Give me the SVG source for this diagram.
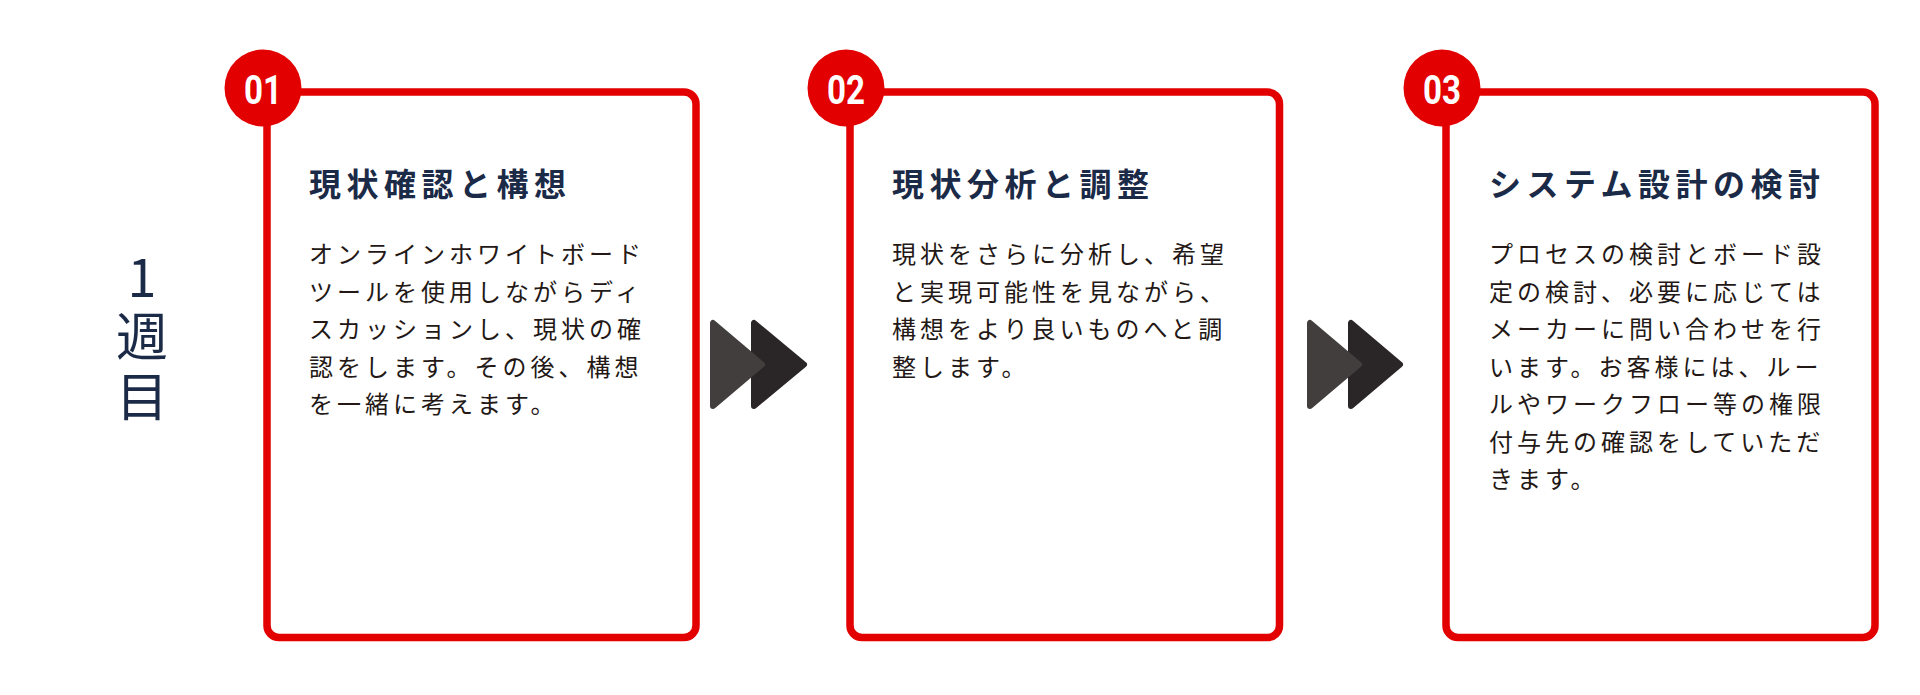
<svg xmlns="http://www.w3.org/2000/svg" width="1920" height="695" viewBox="0 0 1920 695">
<style>
.box{fill:#fff;stroke:#e20000;stroke-width:7.5}
.badge{fill:#e20000}
.num{font-family:Roboto,"Liberation Sans",sans-serif;font-weight:700;font-size:40px;fill:#fff;text-anchor:middle}
.title{font-family:"Noto Sans CJK JP","Noto Sans",sans-serif;font-weight:700;font-size:32px;letter-spacing:5.5px;fill:#1b2a47}
.body{font-family:"Noto Sans CJK JP","Noto Sans",sans-serif;font-weight:400;font-size:24px;letter-spacing:4px;fill:#231815}
.week{font-family:"Noto Sans CJK JP","Noto Sans",sans-serif;font-weight:400;font-size:52px;fill:#1b2a47;writing-mode:vertical-rl;text-orientation:upright;letter-spacing:7.5px}
.a1{fill:#433e3e;stroke:#433e3e;stroke-width:6;stroke-linejoin:round}
.a2{fill:#2a2526;stroke:#2a2526;stroke-width:6;stroke-linejoin:round}
</style>
<rect width="1920" height="695" fill="#fff"/>
<g id="week-label">
<text class="week" x="142" y="251">1週目</text>
</g>
<g id="connectors">
<polygon class="a2" points="754,323 754,406 804,364.5"/>
<polygon class="a1" points="713,323 713,406 762,364.5"/>
<polygon class="a2" points="1351,323 1351,406 1400,364.5"/>
<polygon class="a1" points="1310,323 1310,406 1359,364.5"/>
</g>
<g id="step1">
<rect class="box" x="267" y="92" width="429" height="545.5" rx="12"/>
<circle class="badge" cx="263" cy="88" r="38.5"/>
<text class="num" x="263" y="104" textLength="38" lengthAdjust="spacingAndGlyphs">01</text>
<text class="title" x="309" y="195.5">現状確認と構想</text>
<text class="body" x="309" y="263">オンラインホワイトボード</text>
<text class="body" x="309" y="300.5">ツールを使用しながらディ</text>
<text class="body" x="309" y="338">スカッションし、現状の確</text>
<text class="body" x="309" y="375.5">認をします。その後、構想</text>
<text class="body" x="309" y="413">を一緒に考えます。</text>
</g>
<g id="step2">
<rect class="box" x="850" y="92" width="429.5" height="545.5" rx="12"/>
<circle class="badge" cx="846" cy="88" r="38.5"/>
<text class="num" x="846" y="104" textLength="38" lengthAdjust="spacingAndGlyphs">02</text>
<text class="title" x="892" y="195.5">現状分析と調整</text>
<text class="body" x="892" y="263">現状をさらに分析し、希望</text>
<text class="body" x="892" y="300.5">と実現可能性を見ながら、</text>
<text class="body" x="892" y="338">構想をより良いものへと調</text>
<text class="body" x="892" y="375.5">整します。</text>
</g>
<g id="step3">
<rect class="box" x="1446" y="92" width="429" height="545.5" rx="12"/>
<circle class="badge" cx="1442" cy="88" r="38.5"/>
<text class="num" x="1442" y="104" textLength="38" lengthAdjust="spacingAndGlyphs">03</text>
<text class="title" x="1489" y="195.5">システム設計の検討</text>
<text class="body" x="1489" y="263">プロセスの検討とボード設</text>
<text class="body" x="1489" y="300.5">定の検討、必要に応じては</text>
<text class="body" x="1489" y="338">メーカーに問い合わせを行</text>
<text class="body" x="1489" y="375.5">います。お客様には、ルー</text>
<text class="body" x="1489" y="413">ルやワークフロー等の権限</text>
<text class="body" x="1489" y="450.5">付与先の確認をしていただ</text>
<text class="body" x="1489" y="488">きます。</text>
</g>
</svg>
